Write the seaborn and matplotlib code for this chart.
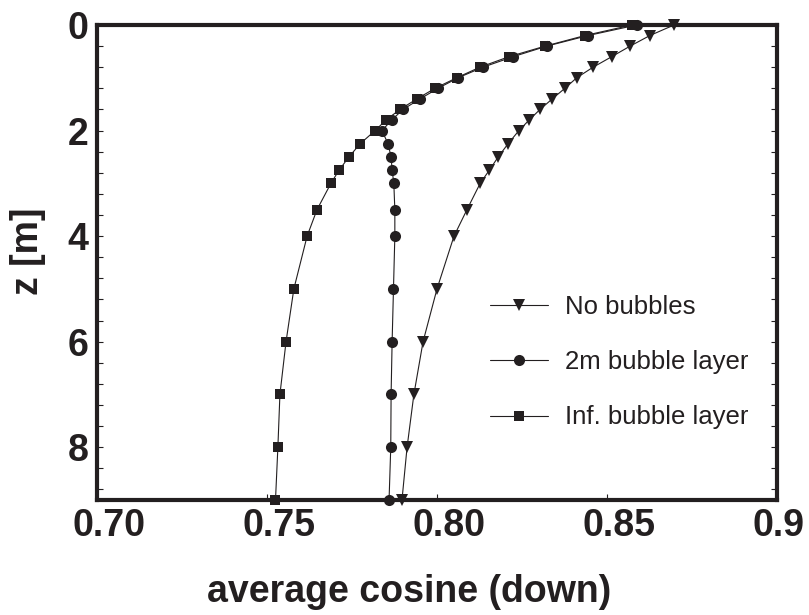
import numpy as np
import pandas as pd
import matplotlib
matplotlib.use('Agg')
import matplotlib.pyplot as plt
import matplotlib.transforms as mtransforms
from matplotlib.ticker import MultipleLocator
import seaborn as sns

# depth grid [m], shared by all three profiles
z = [0.0, 0.2, 0.4, 0.6, 0.8, 1.0, 1.2, 1.4, 1.6, 1.8, 2.0,
     2.25, 2.5, 2.75, 3.0, 3.5, 4.0, 5.0, 6.0, 7.0, 8.0, 9.0]

no_bubbles = [0.8697, 0.8626, 0.8568, 0.8514, 0.8459, 0.8411, 0.8376, 0.8339,
              0.8303, 0.8271, 0.8241, 0.8209, 0.8180, 0.8154, 0.8127, 0.8088,
              0.8050, 0.8000, 0.7959, 0.7932, 0.7912, 0.7897]
layer_2m = [0.8587, 0.8444, 0.8323, 0.8224, 0.8135, 0.8062, 0.8003, 0.7950,
            0.7900, 0.7867, 0.7838, 0.7856, 0.7865, 0.7868, 0.7873, 0.7876,
            0.7876, 0.7872, 0.7868, 0.7865, 0.7864, 0.7859]
layer_inf = [0.8573, 0.8435, 0.8318, 0.8212, 0.8126, 0.8058, 0.7994, 0.7941,
             0.7891, 0.7850, 0.7818, 0.7774, 0.7741, 0.7712, 0.7688, 0.7647,
             0.7618, 0.7579, 0.7556, 0.7538, 0.7532, 0.7525]

labels = ['No bubbles', '2m bubble layer', 'Inf. bubble layer']
markers = ['v', 'o', 's']
sizes = [8.6, 8.0, 7.8]

ink = '#231f20'

sns.set_theme(style='ticks')
plt.rcParams['font.family'] = ['Liberation Sans', 'DejaVu Sans']

fig = plt.figure(figsize=(8.09, 6.15), dpi=100)
ax = fig.add_axes([97/809, 1 - 500/615, 680/809, 475/615])

for vals, lab, mk, ms in zip([no_bubbles, layer_2m, layer_inf], labels, markers, sizes):
  df = pd.DataFrame({'cos': vals, 'z': z})
  sns.lineplot(data=df, x='cos', y='z', sort=False, estimator=None, ax=ax,
               color=ink, linewidth=0.8, marker=mk, markersize=ms,
               markeredgewidth=0, markerfacecolor=ink, label=lab,
               clip_on=False, zorder=5)

ax.set_xlim(0.70, 0.90)
ax.set_ylim(9, 0)
ax.set_xticks([0.70, 0.75, 0.80, 0.85, 0.90])
ax.set_xticklabels(['0.70', '0.75', '0.80', '0.85', '0.9'])
ax.yaxis.set_major_locator(MultipleLocator(2))
ax.yaxis.set_minor_locator(MultipleLocator(0.4))

for s in ax.spines.values():
  s.set_linewidth(3)
  s.set_color(ink)
  s.set_visible(True)

ax.tick_params(axis='both', which='both', direction='in', length=4, width=0.8,
               color=ink, labelcolor=ink, labelsize=27)
ax.tick_params(axis='y', which='both', right=True, pad=6)
ax.tick_params(axis='x', which='both', top=False, pad=6)
for t in ax.get_xticklabels() + ax.get_yticklabels():
  t.set_fontweight('bold')

# x tick labels in the original sit with their left edge a bit left of the tick
shift = mtransforms.ScaledTranslation(-24/100, 0, fig.dpi_scale_trans)
for t in ax.get_xticklabels():
  t.set_horizontalalignment('left')
  t.set_transform(t.get_transform() + shift)

ax.set_xlabel('average cosine (down)', fontsize=27, fontweight='bold', color=ink)
ax.set_ylabel('z [m]', fontsize=27, fontweight='bold', color=ink)
ax.xaxis.set_label_coords(0.459, -0.155)
ax.yaxis.set_label_coords(-0.075, 0.524)

leg = ax.legend(loc='upper left', bbox_to_anchor=(0.578, 0.432), frameon=False,
                fontsize=18.5, handlelength=2.26, handletextpad=0.66,
                labelspacing=1.22, borderpad=0, borderaxespad=0)
for txt in leg.get_texts():
  txt.set_color(ink)

ax.grid(False)
plt.savefig('out.png', dpi=100)
plt.close()
